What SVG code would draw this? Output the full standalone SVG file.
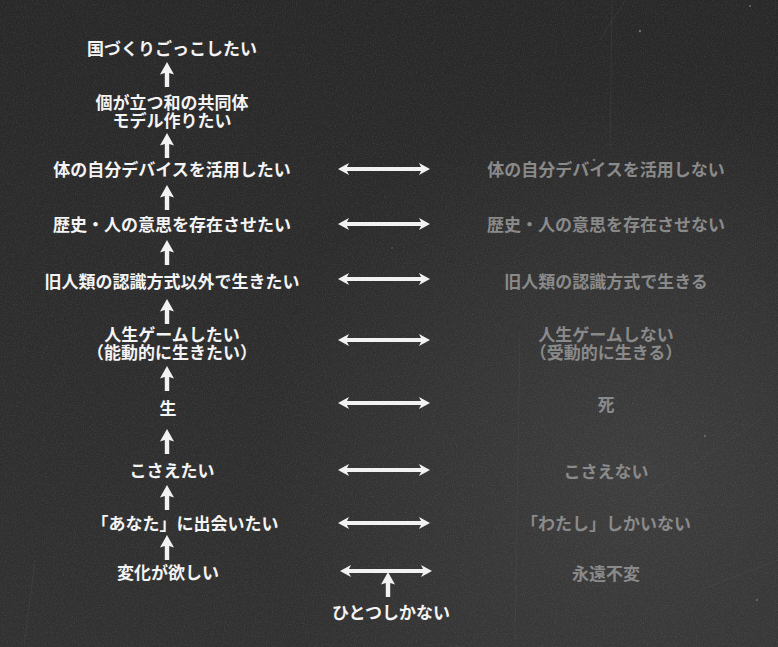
<svg xmlns="http://www.w3.org/2000/svg" xmlns:xlink="http://www.w3.org/1999/xlink" width="778" height="647" viewBox="0 0 778 647">
<style>
  text { font-family: "Noto Sans CJK JP", "Noto Sans", sans-serif; font-size: 17px; font-weight: 700; text-anchor: middle; }
  .pos { fill: #f4f4f4; }
  .neg { fill: #8a8a8a; }
  .arr { fill: #f2f2f2; }
</style>
<defs>
  <linearGradient id="bgv" x1="0" y1="0" x2="0" y2="1">
    <stop offset="0" stop-color="#282828"/>
    <stop offset="1" stop-color="#313131"/>
  </linearGradient>
  <radialGradient id="glow" cx="640" cy="470" r="380" gradientUnits="userSpaceOnUse">
    <stop offset="0" stop-color="#4a4a4a" stop-opacity="0.55"/>
    <stop offset="1" stop-color="#4a4a4a" stop-opacity="0"/>
  </radialGradient>
  <filter id="grain" x="0" y="0" width="100%" height="100%">
    <feTurbulence type="fractalNoise" baseFrequency="0.9" numOctaves="2" seed="4" result="n"/>
    <feColorMatrix type="matrix" values="0 0 0 0 1  0 0 0 0 1  0 0 0 0 1  0 0 0 0.9 -0.38"/>
  </filter>
  <path id="up" d="M0,0 L7,12.5 L2.2,11 L2.2,25 L-2.2,25 L-2.2,11 L-7,12.5 Z"/>
  <path id="dbl" d="M0,0 L11,-6 L9,-1.9 L83,-1.9 L81,-6 L92,0 L81,6 L83,1.9 L9,1.9 L11,6 Z"/>
</defs>

<g id="background">
  <rect width="778" height="647" fill="url(#bgv)"/>
  <rect width="778" height="647" fill="url(#glow)"/>
  <rect width="778" height="647" filter="url(#grain)" opacity="0.2"/>
  <g stroke="#5a5a5a" stroke-width="0.7" opacity="0.35" fill="none">
    <path d="M612,0 L610,150"/>
    <path d="M625,0 L600,40"/>
    <path d="M520,330 L515,640"/>
    <path d="M640,500 L760,420"/>
    <path d="M35,560 L25,640"/>
    <path d="M700,590 L778,560"/>
  </g>
  <g fill="#9a9a9a" opacity="0.6">
    <circle cx="640" cy="31" r="1.2"/>
    <circle cx="750" cy="6" r="1"/>
    <circle cx="594" cy="160" r="1.3"/>
    <circle cx="705" cy="436" r="1"/>
    <circle cx="757" cy="600" r="1"/>
    <circle cx="392" cy="248" r="0.8"/>
  </g>
</g>

<g id="connectors" class="arr">
  <use xlink:href="#up" x="167" y="62"/>
  <use xlink:href="#up" x="167" y="133"/>
  <use xlink:href="#up" x="167" y="185"/>
  <use xlink:href="#up" x="167" y="240"/>
  <use xlink:href="#up" x="167" y="299"/>
  <use xlink:href="#up" x="167" y="366"/>
  <use xlink:href="#up" x="167" y="429"/>
  <use xlink:href="#up" x="167" y="485"/>
  <use xlink:href="#up" x="167" y="535"/>
  <use xlink:href="#dbl" x="338" y="169"/>
  <use xlink:href="#dbl" x="338" y="224"/>
  <use xlink:href="#dbl" x="338" y="279"/>
  <use xlink:href="#dbl" x="338" y="340"/>
  <use xlink:href="#dbl" x="338" y="403"/>
  <use xlink:href="#dbl" x="338" y="470"/>
  <use xlink:href="#dbl" x="338" y="523"/>
  <use xlink:href="#dbl" x="340" y="571"/>
  <use xlink:href="#up" x="388" y="572"/>
</g>

<g id="n-kunizukuri"><text class="pos" x="172" y="55">国づくりごっこしたい</text></g>
<g id="n-kyoudoutai"><text class="pos"><tspan x="172" y="108.5">個が立つ和の共同体</tspan><tspan x="172" y="126.5">モデル作りたい</tspan></text></g>
<g id="n-device"><text class="pos" x="172" y="175.5">体の自分デバイスを活用したい</text></g>
<g id="n-rekishi"><text class="pos" x="172" y="230.5">歴史・人の意思を存在させたい</text></g>
<g id="n-kyujinrui"><text class="pos" x="172" y="287.5">旧人類の認識方式以外で生きたい</text></g>
<g id="n-jinsei"><text class="pos"><tspan x="172" y="340.5">人生ゲームしたい</tspan><tspan x="172" y="358.5">（能動的に生きたい）</tspan></text></g>
<g id="n-sei"><text class="pos" x="168" y="415">生</text></g>
<g id="n-kosae"><text class="pos" x="172" y="477">こさえたい</text></g>
<g id="n-anata"><text class="pos" x="185" y="530">「あなた」に出会いたい</text></g>
<g id="n-henka"><text class="pos" x="168" y="578.5">変化が欲しい</text></g>
<g id="n-hitotsu"><text class="pos" x="391" y="619">ひとつしかない</text></g>

<g id="n-device-neg"><text class="neg" x="606" y="175.5">体の自分デバイスを活用しない</text></g>
<g id="n-rekishi-neg"><text class="neg" x="606" y="231">歴史・人の意思を存在させない</text></g>
<g id="n-kyujinrui-neg"><text class="neg" x="606" y="287.5">旧人類の認識方式で生きる</text></g>
<g id="n-jinsei-neg"><text class="neg"><tspan x="606" y="340.5">人生ゲームしない</tspan><tspan x="606" y="359">（受動的に生きる）</tspan></text></g>
<g id="n-shi"><text class="neg" x="606" y="410.5">死</text></g>
<g id="n-kosae-neg"><text class="neg" x="606" y="478">こさえない</text></g>
<g id="n-watashi"><text class="neg" x="606" y="529.5">「わたし」しかいない</text></g>
<g id="n-eien"><text class="neg" x="606" y="579.5">永遠不変</text></g>
</svg>
